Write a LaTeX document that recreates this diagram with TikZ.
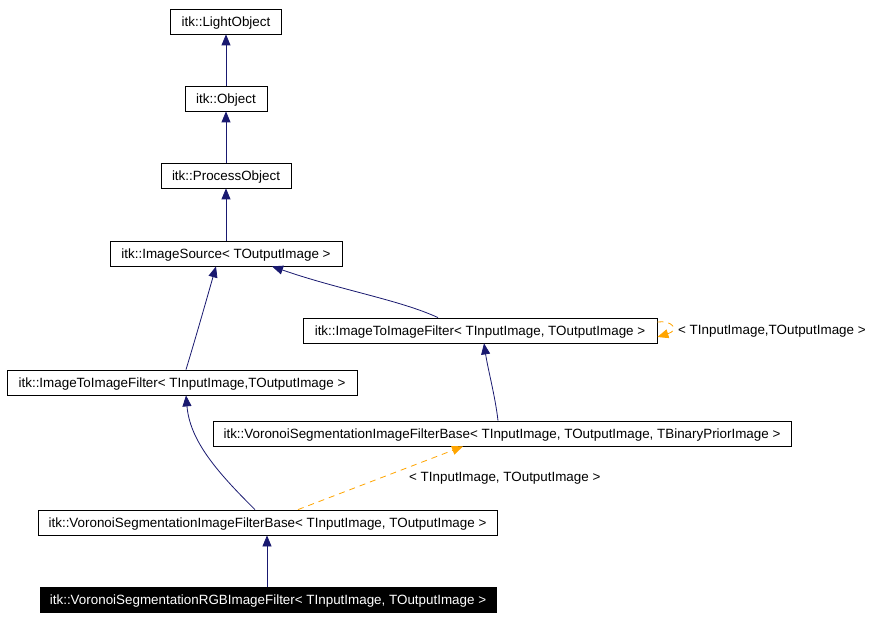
\documentclass[tikz,border=0pt]{standalone}
\usepackage{fontspec}
\setmainfont{Liberation Sans}
\usetikzlibrary{arrows.meta}
\definecolor{edgeblue}{HTML}{191970}
\definecolor{tmplorange}{HTML}{FFA500}
\begin{document}
\begin{tikzpicture}[x=1pt,y=-1pt,
  cls/.style={draw=black,fill=white,line width=0.8pt,inner sep=0pt,minimum height=25pt,text height=9.6pt,text depth=0pt,font=\fontsize{13.4}{15}\selectfont,text=black},
  cur/.style={cls,fill=black,text=white},
  inh/.style={draw=edgeblue,line width=0.8pt,-{Triangle[length=11pt,width=9pt,fill=edgeblue]}},
  tmpl/.style={draw=tmplorange,line width=0.8pt,dash pattern=on 6pt off 5pt,-{Triangle[length=11pt,width=9pt,fill=tmplorange]}},
  lbl/.style={font=\fontsize{13.4}{15}\selectfont,inner sep=0pt,anchor=west,text height=9.6pt,text depth=0pt}]
\useasboundingbox[fill=white] (0,0) rectangle (876,620);
\node[cls,minimum width=111pt] (light) at (226,21.5) {itk::LightObject};
\node[cls,minimum width=82pt] (obj) at (226,98.5) {itk::Object};
\node[cls,minimum width=130pt] (proc) at (226,175.5) {itk::ProcessObject};
\node[cls,minimum width=232pt] (src) at (226,253.5) {itk::ImageSource< TOutputImage >};
\node[cls,minimum width=354pt] (i2ir) at (480,330.5) {itk::ImageToImageFilter< TInputImage, TOutputImage >};
\node[cls,minimum width=350pt] (i2il) at (182,382.5) {itk::ImageToImageFilter< TInputImage,TOutputImage >};
\node[cls,minimum width=578pt] (vb3) at (502,433.5) {itk::VoronoiSegmentationImageFilterBase< TInputImage, TOutputImage, TBinaryPriorImage >};
\node[cls,minimum width=459pt] (vb2) at (267.5,522.5) {itk::VoronoiSegmentationImageFilterBase< TInputImage, TOutputImage >};
\node[cur,minimum width=456pt] (rgb) at (268,600) {itk::VoronoiSegmentationRGBImageFilter< TInputImage, TOutputImage >};

\draw[inh] (obj.north) -- (light.south);
\draw[inh] (proc.north) -- (obj.south);
\draw[inh] (src.north) -- (proc.south);
\draw[inh] (i2il.north -| 186,0) .. controls (195,340) and (205,305) .. (src.south -| 216,0);
\draw[inh] (i2ir.north -| 438,0) .. controls (400,300) and (340,290) .. (src.south -| 272,0);
\draw[inh] (vb3.north -| 498,0) .. controls (495,395) and (488,370) .. (i2ir.south -| 484,0);
\draw[inh] (vb2.north -| 255,0) .. controls (215,470) and (190,440) .. (i2il.south -| 186,0);
\draw[inh] (rgb.north -| 267,0) -- (vb2.south -| 267,0);
\draw[tmpl] (vb2.north -| 298,0) -- (vb3.south -| 463,0);
\draw[tmpl] (i2ir.east |- 0,322) .. controls (672,320) and (680,330) .. (i2ir.east |- 0,337);
\node[lbl] (l1) at (678,330) {< TInputImage,TOutputImage >};
\node[lbl] (l2) at (409,477) {< TInputImage, TOutputImage >};
\end{tikzpicture}
\end{document}
